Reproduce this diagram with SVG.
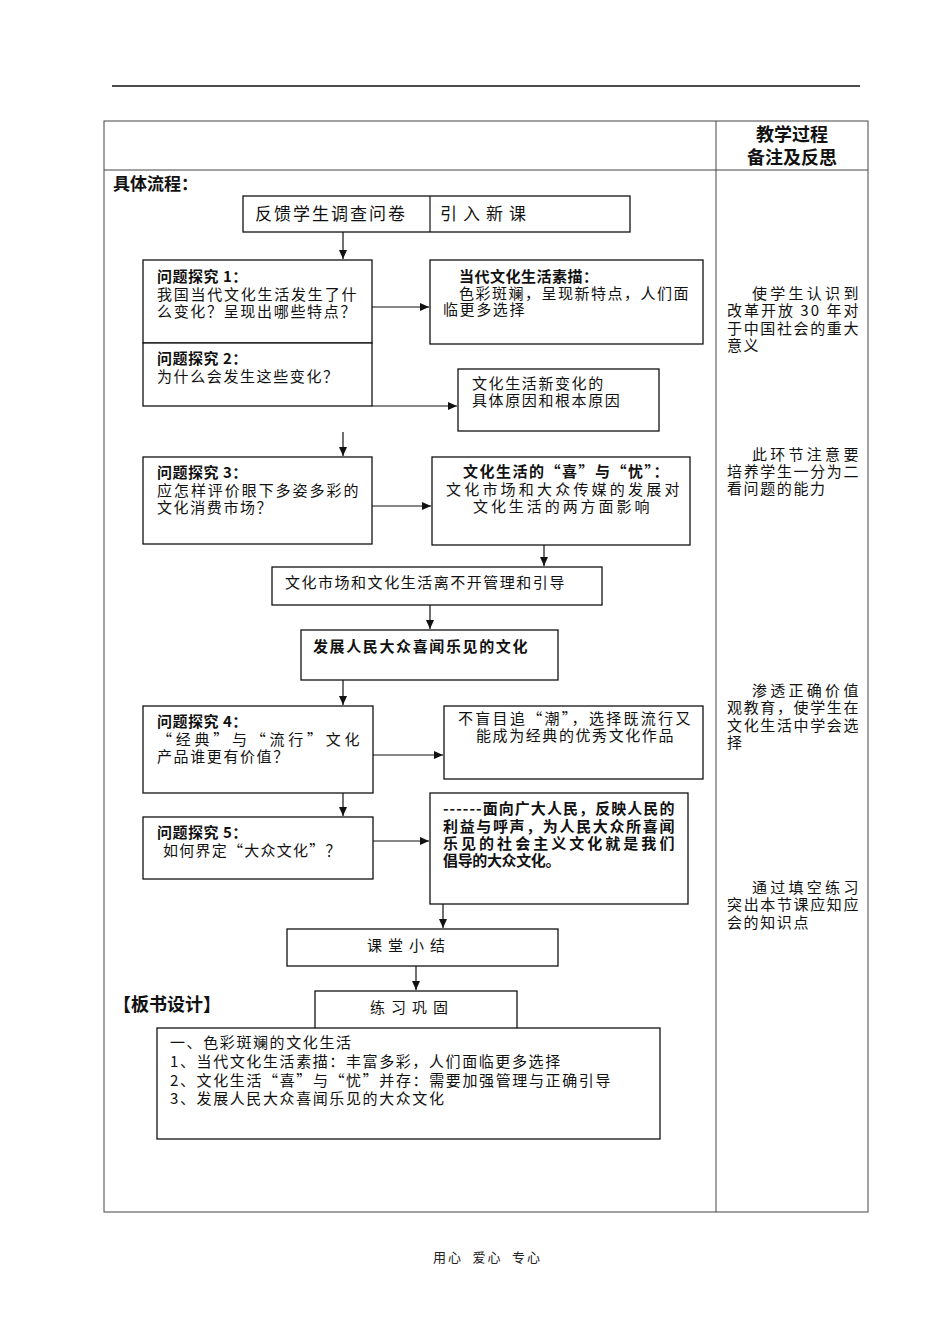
<svg xmlns="http://www.w3.org/2000/svg" width="950" height="1344" viewBox="0 0 950 1344">
<style>
.t{font-family:"Noto Sans CJK SC","Liberation Serif",sans-serif;font-size:15px;fill:#111;letter-spacing:1.6px}
.b{font-weight:bold}
.h{font-family:"Noto Sans CJK SC",sans-serif;font-size:18px;font-weight:bold;fill:#111}
.box{fill:#fff;stroke:#111;stroke-width:1.3}
.grid{fill:none;stroke:#444;stroke-width:1}
.c{stroke:#111;stroke-width:1.2;fill:none}
</style>
<defs>
<marker id="ah" markerWidth="10" markerHeight="10" refX="9" refY="5" orient="auto" markerUnits="userSpaceOnUse">
<path d="M0,1 L9,5 L0,9 Z" fill="#111"/>
</marker>
</defs>
<rect width="950" height="1344" fill="#fff"/>
<line x1="112" y1="86" x2="860" y2="86" stroke="#111" stroke-width="1.5"/>
<g id="table">
<rect class="grid" x="104" y="121" width="764" height="1091"/>
<line class="grid" x1="716" y1="121" x2="716" y2="1212"/>
<line class="grid" x1="104" y1="170" x2="868" y2="170"/>
<text class="h" x="792" y="141" text-anchor="middle">教学过程</text>
<text class="h" x="792" y="164" text-anchor="middle">备注及反思</text>
<text class="h" x="113" y="190" style="font-size:17px">具体流程：</text>
<text class="h" x="113" y="1011">【板书设计】</text>
</g>
<g id="notes" class="t">
<text x="752" y="299" textLength="108" lengthAdjust="spacing">使学生认识到</text>
<text x="727" y="316" textLength="133" lengthAdjust="spacing">改革开放 30 年对</text>
<text x="727" y="334" textLength="133" lengthAdjust="spacing">于中国社会的重大</text>
<text x="727" y="351">意义</text>
<text x="752" y="460" textLength="108" lengthAdjust="spacing">此环节注意要</text>
<text x="727" y="477" textLength="133" lengthAdjust="spacing">培养学生一分为二</text>
<text x="727" y="494">看问题的能力</text>
<text x="752" y="696" textLength="108" lengthAdjust="spacing">渗透正确价值</text>
<text x="727" y="713" textLength="133" lengthAdjust="spacing">观教育，使学生在</text>
<text x="727" y="731" textLength="133" lengthAdjust="spacing">文化生活中学会选</text>
<text x="727" y="748">择</text>
<text x="752" y="893" textLength="108" lengthAdjust="spacing">通过填空练习</text>
<text x="727" y="910" textLength="133" lengthAdjust="spacing">突出本节课应知应</text>
<text x="727" y="928">会的知识点</text>
</g>
<g id="connectors">
<line class="c" x1="343" y1="232" x2="343" y2="259" marker-end="url(#ah)"/>
<line class="c" x1="343" y1="343" x2="343" y2="371" marker-end="url(#ah)"/>
<line class="c" x1="372" y1="307" x2="429" y2="307" marker-end="url(#ah)"/>
<line class="c" x1="372" y1="406" x2="457" y2="406" marker-end="url(#ah)"/>
<line class="c" x1="343" y1="432" x2="343" y2="456" marker-end="url(#ah)"/>
<line class="c" x1="372" y1="506" x2="431" y2="506" marker-end="url(#ah)"/>
<line class="c" x1="544" y1="545" x2="544" y2="566" marker-end="url(#ah)"/>
<line class="c" x1="430" y1="605" x2="430" y2="629" marker-end="url(#ah)"/>
<line class="c" x1="343" y1="680" x2="343" y2="705" marker-end="url(#ah)"/>
<line class="c" x1="373" y1="755" x2="443" y2="755" marker-end="url(#ah)"/>
<line class="c" x1="343" y1="793" x2="343" y2="816" marker-end="url(#ah)"/>
<line class="c" x1="373" y1="841" x2="429" y2="841" marker-end="url(#ah)"/>
<line class="c" x1="443" y1="904" x2="443" y2="928" marker-end="url(#ah)"/>
<line class="c" x1="416" y1="966" x2="416" y2="990" marker-end="url(#ah)"/>
</g>
<g id="n-intro">
<rect class="box" x="243" y="196" width="387" height="36"/>
<line class="c" x1="430" y1="196" x2="430" y2="232"/>
<text class="t" x="255" y="220" style="font-size:17px;letter-spacing:2px">反馈学生调查问卷</text>
<text class="t" x="440" y="220" style="font-size:17px;letter-spacing:6px">引入新课</text>
</g>
<g id="n-q1">
<rect class="box" x="143" y="260" width="229" height="83"/>
<text class="t b" x="157" y="282" style="letter-spacing:0.5px">问题探究 1：</text>
<text class="t" x="157" y="300" textLength="201" lengthAdjust="spacing">我国当代文化生活发生了什</text>
<text class="t" x="157" y="317" textLength="200" lengthAdjust="spacing">么变化？呈现出哪些特点？</text>
</g>
<g id="n-q2">
<rect class="box" x="143" y="343" width="229" height="63"/>
<text class="t b" x="157" y="364" style="letter-spacing:0.5px">问题探究 2：</text>
<text class="t" x="157" y="382">为什么会发生这些变化？</text>
</g>
<g id="n-r1">
<rect class="box" x="430" y="260" width="273" height="84"/>
<text class="t b" x="459" y="282" style="letter-spacing:0.5px">当代文化生活素描：</text>
<text class="t" x="459" y="299" textLength="231" lengthAdjust="spacing">色彩斑斓，呈现新特点，人们面</text>
<text class="t" x="443" y="315">临更多选择</text>
</g>
<g id="n-r2">
<rect class="box" x="458" y="369" width="201" height="62"/>
<text class="t" x="472" y="389">文化生活新变化的</text>
<text class="t" x="472" y="406">具体原因和根本原因</text>
</g>
<g id="n-q3">
<rect class="box" x="143" y="457" width="229" height="87"/>
<text class="t b" x="157" y="478" style="letter-spacing:0.5px">问题探究 3：</text>
<text class="t" x="157" y="496" textLength="203" lengthAdjust="spacing">应怎样评价眼下多姿多彩的</text>
<text class="t" x="157" y="513">文化消费市场？</text>
</g>
<g id="n-r3">
<rect class="box" x="432" y="457" width="258" height="88"/>
<text class="t b" x="463" y="477" textLength="207" lengthAdjust="spacing">文化生活的“喜”与“忧”：</text>
<text class="t" x="446" y="495" textLength="235" lengthAdjust="spacing">文化市场和大众传媒的发展对</text>
<text class="t" x="473" y="512" textLength="178" lengthAdjust="spacing">文化生活的两方面影响</text>
</g>
<g id="n-m1">
<rect class="box" x="272" y="567" width="330" height="38"/>
<text class="t" x="285" y="588" textLength="281" lengthAdjust="spacing">文化市场和文化生活离不开管理和引导</text>
</g>
<g id="n-dev">
<rect class="box" x="301" y="630" width="257" height="50"/>
<text class="t b" x="313" y="652" textLength="216" lengthAdjust="spacing">发展人民大众喜闻乐见的文化</text>
</g>
<g id="n-q4">
<rect class="box" x="143" y="706" width="230" height="87"/>
<text class="t b" x="157" y="727" style="letter-spacing:0.5px">问题探究 4：</text>
<text class="t" x="157" y="745" textLength="204" lengthAdjust="spacing">“经典”与“流行”文化</text>
<text class="t" x="157" y="762">产品谁更有价值？</text>
</g>
<g id="n-r4">
<rect class="box" x="444" y="706" width="259" height="73"/>
<text class="t" x="458" y="724" textLength="234" lengthAdjust="spacing">不盲目追“潮”，选择既流行又</text>
<text class="t" x="476" y="741" textLength="199" lengthAdjust="spacing">能成为经典的优秀文化作品</text>
</g>
<g id="n-q5">
<rect class="box" x="143" y="817" width="230" height="62"/>
<text class="t b" x="157" y="838" style="letter-spacing:0.5px">问题探究 5：</text>
<text class="t" x="163" y="856" textLength="179" lengthAdjust="spacing">如何界定“大众文化”？</text>
</g>
<g id="n-r5">
<rect class="box" x="430" y="793" width="258" height="111"/>
<text class="t b" x="443" y="814" textLength="233" lengthAdjust="spacing">------面向广大人民，反映人民的</text>
<text class="t b" x="443" y="832" textLength="233" lengthAdjust="spacing">利益与呼声，为人民大众所喜闻</text>
<text class="t b" x="443" y="849" textLength="233" lengthAdjust="spacing">乐见的社会主义文化就是我们</text>
<text class="t b" x="443" y="866" textLength="119" lengthAdjust="spacing">倡导的大众文化。</text>
</g>
<g id="n-summary">
<rect class="box" x="287" y="929" width="271" height="37"/>
<text class="t" x="367" y="951" style="letter-spacing:6px">课堂小结</text>
</g>
<g id="n-practice">
<rect class="box" x="315" y="991" width="202" height="40"/>
<text class="t" x="370" y="1013" style="letter-spacing:6px">练习巩固</text>
</g>
<g id="n-board">
<rect class="box" x="157" y="1028" width="503" height="111"/>
<text class="t" x="170" y="1048">一、色彩斑斓的文化生活</text>
<text class="t" x="170" y="1067">1、当代文化生活素描：丰富多彩，人们面临更多选择</text>
<text class="t" x="170" y="1086" textLength="442" lengthAdjust="spacing">2、文化生活“喜”与“忧”并存：需要加强管理与正确引导</text>
<text class="t" x="170" y="1104">3、发展人民大众喜闻乐见的大众文化</text>
</g>
<text x="433" y="1262" textLength="107" lengthAdjust="spacing" xml:space="preserve" style="font-family:'Noto Sans CJK SC',sans-serif;font-size:13px;fill:#222">用心  爱心  专心</text>
</svg>
